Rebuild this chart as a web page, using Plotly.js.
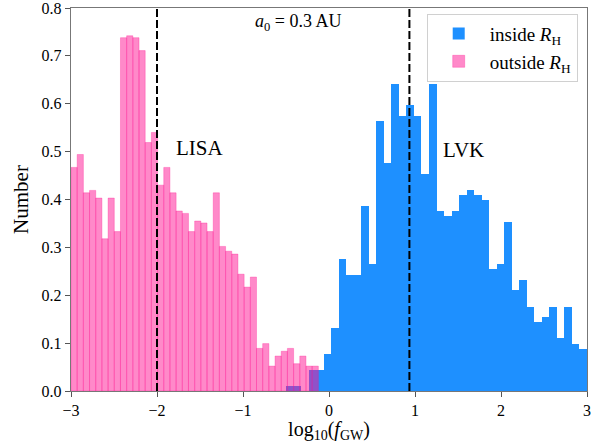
<!DOCTYPE html>
<html>
<head>
<meta charset="utf-8">
<script src="https://cdn.plot.ly/plotly-3.0.1.min.js"></script>
<style>html,body{margin:0;padding:0;background:#fff;}#chart{width:613px;height:443px;}</style>
</head>
<body>
<div id="chart"></div>
<script>
// Histogram bins: outside R_H (pink)
const pinkStart = -3.0;
const pinkWidth = 0.0719;
const pinkValues = [0.467, 0.494, 0.414, 0.419, 0.403, 0.318, 0.403, 0.333, 0.738, 0.742,
                    0.738, 0.711, 0.519, 0.540, 0.430, 0.467, 0.414, 0.376, 0.371, 0.333,
                    0.355, 0.351, 0.333, 0.414, 0.302, 0.292, 0.286, 0.244, 0.217, 0.238,
                    0.089, 0.099, 0.052, 0.073, 0.083, 0.089, 0.057, 0.073, 0.052, 0.052];
// Histogram bins: inside R_H (blue)
const blueStart = -0.5;
const blueWidth = 0.0875;
const blueValues = [0.011, 0.011, 0.0, 0.044, 0.044, 0.077, 0.132, 0.276, 0.243, 0.242,
                    0.387, 0.265, 0.565, 0.476, 0.641, 0.575, 0.597, 0.575, 0.453, 0.641,
                    0.376, 0.365, 0.376, 0.409, 0.419, 0.409, 0.398, 0.254, 0.265, 0.354,
                    0.210, 0.231, 0.176, 0.144, 0.155, 0.176, 0.110, 0.176, 0.099, 0.088];
// Reference frequency lines
const lisaLine = -2.0;
const lvkLine = 0.935;
const xTicks = [-3, -2, -1, 0, 1, 2, 3];
const yTicks = [0.0, 0.1, 0.2, 0.3, 0.4, 0.5, 0.6, 0.7, 0.8];

const centers = (start, w, n) => Array.from({length: n}, (_, i) => start + w * (i + 0.5));

const serif = 'Liberation Serif, DejaVu Serif, serif';

const traces = [
  {
    type: 'bar', name: 'inside <i>R</i><sub>H</sub>',
    x: centers(blueStart, blueWidth, blueValues.length), y: blueValues,
    width: blueWidth,
    marker: {color: 'rgb(30,144,255)', line: {width: 0}},
    hoverinfo: 'x+y'
  },
  {
    type: 'bar', name: 'outside <i>R</i><sub>H</sub>',
    x: centers(pinkStart, pinkWidth, pinkValues.length), y: pinkValues,
    width: pinkWidth,
    marker: {color: 'rgba(255,20,147,0.5)', line: {color: 'rgba(255,20,147,0.3)', width: 1}},
    hoverinfo: 'x+y'
  }
];

const layout = {
  width: 613, height: 443,
  margin: {l: 71, r: 26, t: 8, b: 52},
  paper_bgcolor: '#fff', plot_bgcolor: '#fff',
  barmode: 'overlay', bargap: 0,
  font: {family: serif, color: '#000', size: 15},
  showlegend: true,
  legend: {
    x: 0.982, y: 0.985, xanchor: 'right', yanchor: 'top',
    bgcolor: 'rgba(255,255,255,0.9)', bordercolor: '#d0d0d0', borderwidth: 1,
    font: {family: serif, size: 19},
    traceorder: 'normal', tracegroupgap: 4, itemwidth: 52
  },
  xaxis: {
    range: [-3, 3], tickvals: xTicks, ticks: 'outside', ticklen: 5, tickwidth: 1,
    tickcolor: '#555', showline: true, linecolor: '#777', linewidth: 1.2, mirror: true,
    showgrid: false, zeroline: false,
    tickfont: {family: serif, size: 16},
    title: {text: 'log<sub>10</sub>(<i>f</i><sub>GW</sub>)', font: {family: serif, size: 20}, standoff: 6}
  },
  yaxis: {
    range: [0, 0.8], tickvals: yTicks, tickformat: '.1f', ticks: 'outside', ticklen: 5, tickwidth: 1,
    tickcolor: '#555', showline: true, linecolor: '#777', linewidth: 1.2, mirror: true,
    showgrid: false, zeroline: false, ticklabeloverflow: 'allow',
    tickfont: {family: serif, size: 16},
    title: {text: 'Number', font: {family: serif, size: 21}, standoff: 7}
  },
  shapes: [lisaLine, lvkLine].map(v => ({
    type: 'line', xref: 'x', yref: 'paper', x0: v, x1: v, y0: 0, y1: 1,
    line: {color: '#000', width: 2, dash: '8px,3px'}
  })),
  annotations: [
    {x: -0.36, y: 0.77, xref: 'x', yref: 'y', text: '<i>a</i><sub>0</sub> = 0.3 AU', showarrow: false,
     font: {family: serif, size: 18}, xanchor: 'center', yanchor: 'middle'},
    {x: -1.5, y: 0.507, xref: 'x', yref: 'y', text: 'LISA', showarrow: false,
     font: {family: serif, size: 21}, xanchor: 'center', yanchor: 'middle'},
    {x: 1.56, y: 0.503, xref: 'x', yref: 'y', text: 'LVK', showarrow: false,
     font: {family: serif, size: 21}, xanchor: 'center', yanchor: 'middle'}
  ]
};

Plotly.newPlot('chart', traces, layout, {displayModeBar: false, staticPlot: true});
</script>
</body>
</html>
